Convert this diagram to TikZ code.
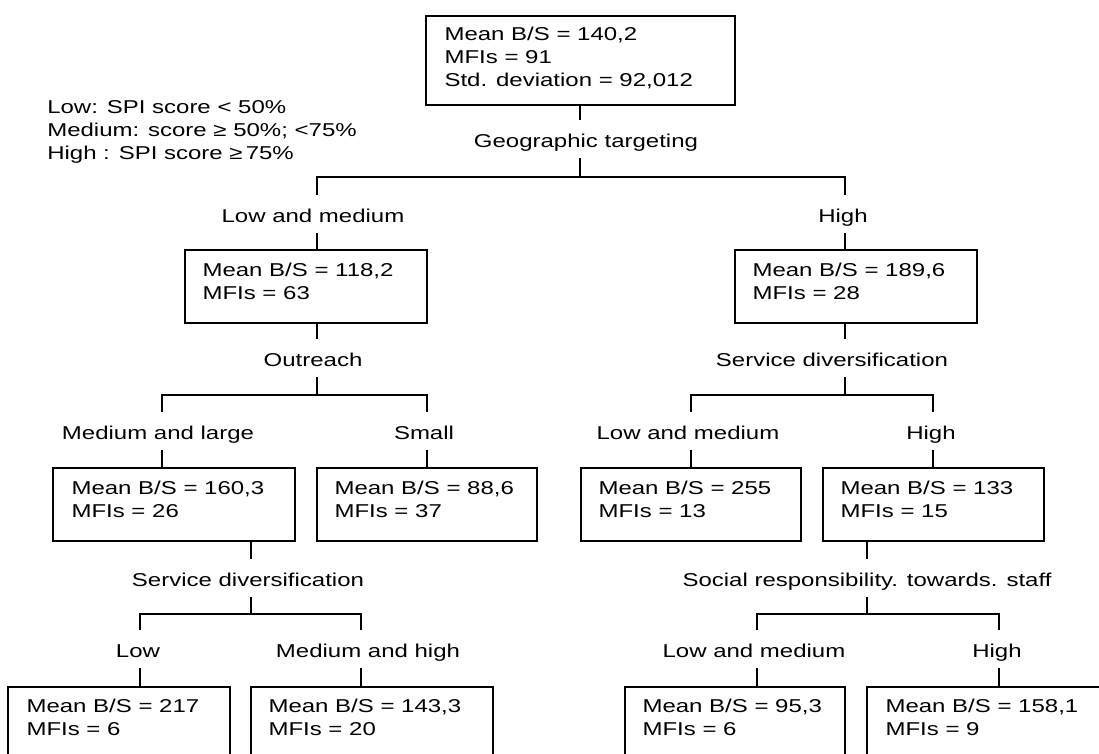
\documentclass[tikz,border=0pt]{standalone}
\usepackage{fontspec}
\setmainfont{Liberation Sans}[FakeStretch=1.29]
\usetikzlibrary{fit}
\begin{document}
\begin{tikzpicture}[x=0.75pt,y=-0.75pt,
  every node/.style={font=\fontsize{13.95pt}{17.25pt}\selectfont, text=black},
  box/.style={draw=black, line width=1.1pt, inner sep=0pt, rectangle},
  boxtxt/.style={anchor=base west, align=left, inner sep=0pt},
  crit/.style={anchor=base, inner sep=0pt, text height=20.25pt, text depth=8.25pt},
  conn/.style={draw=black, line width=1.1pt}]
\useasboundingbox (0,0) rectangle (1099,753);
\clip (0,0) rectangle (1099,753);

% legend (base anchor = baseline of last line)
\node[boxtxt] (legend) at (47,159) {Low: SPI score < 50\%\\Medium: score ≥ 50\%; <75\%\\High : SPI score ≥\,75\%};

% boxes
\node[box, fit={(426,16) (735,105)}] (b0) {};
\node[box, fit={(185,250) (427,323)}] (bL) {};
\node[box, fit={(735,250) (977,323)}] (bR) {};
\node[box, fit={(53,468) (295,541)}] (bLL) {};
\node[box, fit={(317,468) (537,541)}] (bLR) {};
\node[box, fit={(581,468) (801,541)}] (bRL) {};
\node[box, fit={(823,468) (1044,541)}] (bRR) {};
\node[box, fit={(8,687) (230,800)}] (bLLL) {};
\node[box, fit={(251,687) (493,800)}] (bLLR) {};
\node[box, fit={(625,687) (845,800)}] (bRRL) {};
\node[box, fit={(867,687) (1130,800)}] (bRRR) {};

% box texts (base anchor = baseline of last line)
\node[boxtxt] (t0) at ([shift={(19,71)}]b0.north west) {Mean B/S = 140,2\\MFIs = 91\\Std. deviation = 92,012};
\node[boxtxt] (tL) at ([shift={(18,50)}]bL.north west) {Mean B/S = 118,2\\MFIs = 63};
\node[boxtxt] (tR) at ([shift={(18,50)}]bR.north west) {Mean B/S = 189,6\\MFIs = 28};
\node[boxtxt] (tLL) at ([shift={(19,50)}]bLL.north west) {Mean B/S = 160,3\\MFIs = 26};
\node[boxtxt] (tLR) at ([shift={(18,50)}]bLR.north west) {Mean B/S = 88,6\\MFIs = 37};
\node[boxtxt] (tRL) at ([shift={(18,50)}]bRL.north west) {Mean B/S = 255\\MFIs = 13};
\node[boxtxt] (tRR) at ([shift={(18,50)}]bRR.north west) {Mean B/S = 133\\MFIs = 15};
\node[boxtxt] (tLLL) at ([shift={(19,49)}]bLLL.north west) {Mean B/S = 217\\MFIs = 6};
\node[boxtxt] (tLLR) at ([shift={(18,49)}]bLLR.north west) {Mean B/S = 143,3\\MFIs = 20};
\node[boxtxt] (tRRL) at ([shift={(18,49)}]bRRL.north west) {Mean B/S = 95,3\\MFIs = 6};
\node[boxtxt] (tRRR) at ([shift={(19,49)}]bRRR.north west) {Mean B/S = 158,1\\MFIs = 9};

% criteria and branch labels
\node[crit] (c0) at (586,147) {Geographic targeting};
\node[crit] (l0a) at (313,222) {Low and medium};
\node[crit] (l0b) at (843,222) {High};

\node[crit] (cL) at (313,366) {Outreach};
\node[crit] (lLa) at (158,439) {Medium and large};
\node[crit] (lLb) at (424,439) {Small};

\node[crit] (cR) at (832,366) {Service diversification};
\node[crit] (lRa) at (688,439) {Low and medium};
\node[crit] (lRb) at (931,439) {High};

\node[crit] (cLL) at (248,586) {Service diversification};
\node[crit] (lLLa) at (138,657) {Low};
\node[crit] (lLLb) at (368,657) {Medium and high};

\node[crit] (cRR) at (867,586) {Social responsibility. towards. staff};
\node[crit] (lRRa) at (754,657) {Low and medium};
\node[crit] (lRRb) at (997,657) {High};

% line positions
\coordinate (x0) at (580,177);
\coordinate (x0a) at (317,177);
\coordinate (x0b) at (845,177);
\coordinate (xL) at (317,395);
\coordinate (xLa) at (162,395);
\coordinate (xLb) at (427,395);
\coordinate (xR) at (845,395);
\coordinate (xRa) at (691,395);
\coordinate (xRb) at (933,395);
\coordinate (xLL) at (251,614);
\coordinate (xLLa) at (140,614);
\coordinate (xLLb) at (361,614);
\coordinate (xRR) at (867,614);
\coordinate (xRRa) at (757,614);
\coordinate (xRRb) at (999,614);

% connectors
\draw[conn] (b0.south -| x0) -- (c0.north -| x0);
\draw[conn] (c0.south -| x0) -- (x0);
\draw[conn] (l0a.north -| x0a) -- (x0a) -- (x0b) -- (l0b.north -| x0b);
\draw[conn] (l0a.south -| x0a) -- (bL.north -| x0a);
\draw[conn] (l0b.south -| x0b) -- (bR.north -| x0b);

\draw[conn] (bL.south -| xL) -- (cL.north -| xL);
\draw[conn] (cL.south -| xL) -- (xL);
\draw[conn] (lLa.north -| xLa) -- (xLa) -- (xLb) -- (lLb.north -| xLb);
\draw[conn] (lLa.south -| xLa) -- (bLL.north -| xLa);
\draw[conn] (lLb.south -| xLb) -- (bLR.north -| xLb);

\draw[conn] (bR.south -| xR) -- (cR.north -| xR);
\draw[conn] (cR.south -| xR) -- (xR);
\draw[conn] (lRa.north -| xRa) -- (xRa) -- (xRb) -- (lRb.north -| xRb);
\draw[conn] (lRa.south -| xRa) -- (bRL.north -| xRa);
\draw[conn] (lRb.south -| xRb) -- (bRR.north -| xRb);

\draw[conn] (bLL.south -| xLL) -- (cLL.north -| xLL);
\draw[conn] (cLL.south -| xLL) -- (xLL);
\draw[conn] (lLLa.north -| xLLa) -- (xLLa) -- (xLLb) -- (lLLb.north -| xLLb);
\draw[conn] (lLLa.south -| xLLa) -- (bLLL.north -| xLLa);
\draw[conn] (lLLb.south -| xLLb) -- (bLLR.north -| xLLb);

\draw[conn] (bRR.south -| xRR) -- (cRR.north -| xRR);
\draw[conn] (cRR.south -| xRR) -- (xRR);
\draw[conn] (lRRa.north -| xRRa) -- (xRRa) -- (xRRb) -- (lRRb.north -| xRRb);
\draw[conn] (lRRa.south -| xRRa) -- (bRRL.north -| xRRa);
\draw[conn] (lRRb.south -| xRRb) -- (bRRR.north -| xRRb);
\end{tikzpicture}
\end{document}
